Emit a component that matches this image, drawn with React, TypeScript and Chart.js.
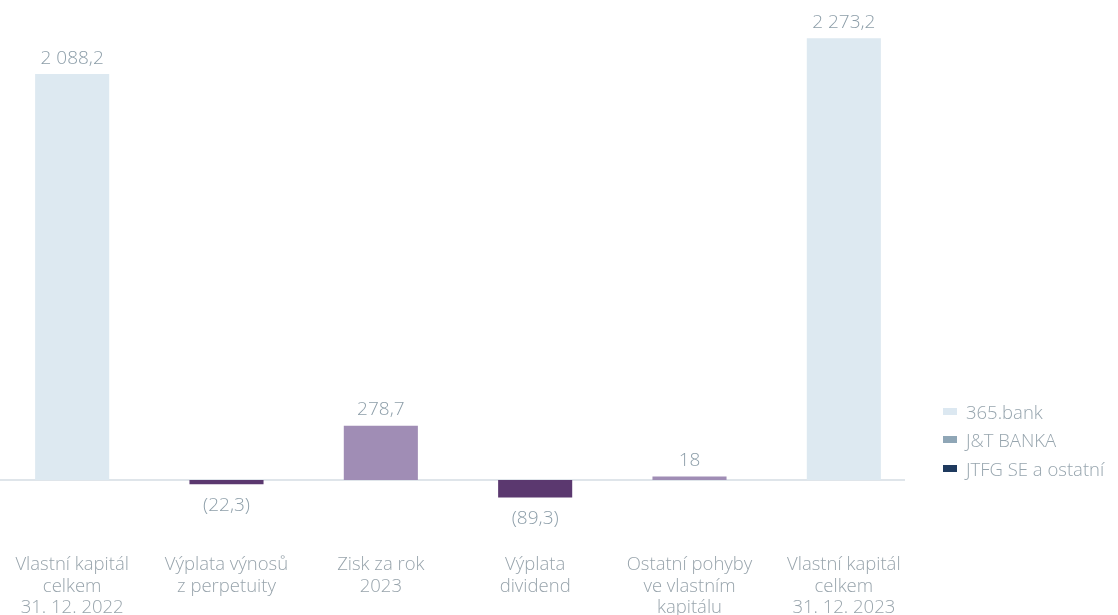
import React, { useEffect, useRef } from "react";
import { Chart, registerables } from "chart.js";

Chart.register(...registerables);

const categories: string[][] = [
  ["Vlastní kapitál", "celkem", "31. 12. 2022"],
  ["Výplata výnosů", "z perpetuity"],
  ["Zisk za rok", "2023"],
  ["Výplata", "dividend"],
  ["Ostatní pohyby", "ve vlastním", "kapitálu"],
  ["Vlastní kapitál", "celkem", "31. 12. 2023"],
];
const values: number[] = [2088.2, -22.3, 278.7, -89.3, 18, 2273.2];
const barKinds: string[] = ["total", "change", "change", "change", "change", "total"];
const legendLabels: string[] = ["365.bank", "J&T BANKA", "JTFG SE a ostatní"];

const legendColors = ["#dce8f1", "#8fa6b6", "#1f3a5e"];
const COLOR_TOTAL = "#dde9f1";
const COLOR_POS = "#a08db5";
const COLOR_NEG = "#5b386f";
const TEXT = "#8d9ea9";
const FONT = "'Open Sans', 'Noto Sans', sans-serif";

function fmt(v: number): string {
  const a = Math.abs(v);
  let s = Number.isInteger(a) ? String(a) : a.toFixed(1);
  let [i, d] = s.split(".");
  i = i.replace(/\B(?=(\d{3})+(?!\d))/g, " ");
  const out = d ? i + "," + d : i;
  return v < 0 ? "(" + out + ")" : out;
}

const valueLabelPlugin = {
  id: "valueLabels",
  beforeDatasetsDraw(chart: any) {
    const { ctx, chartArea, scales } = chart;
    const y0 = scales.y.getPixelForValue(0);
    ctx.save();
    ctx.strokeStyle = "#d4dde3";
    ctx.lineWidth = 1.5;
    ctx.beginPath();
    ctx.moveTo(chartArea.left + 5, y0);
    ctx.lineTo(chartArea.right - 16, y0);
    ctx.stroke();
    ctx.restore();
  },
  afterDatasetsDraw(chart: any) {
    const { ctx } = chart;
    const meta = chart.getDatasetMeta(0);
    ctx.save();
    ctx.font = "300 19px " + FONT;
    ctx.fillStyle = TEXT;
    ctx.textAlign = "center";
    ctx.textBaseline = "middle";
    meta.data.forEach((bar: any, i: number) => {
      const v = values[i];
      const p = bar.getProps(["x", "y", "base"], true);
      if (v >= 0) {
        ctx.fillText(fmt(v), p.x, p.y - 16);
      } else {
        ctx.fillText(fmt(v), p.x, p.y + 21);
      }
    });
    ctx.restore();
  },
};

export default function App() {
  const ref = useRef<HTMLCanvasElement | null>(null);
  useEffect(() => {
    if (!ref.current) return;
    const chart = new Chart(ref.current, {
      type: "bar",
      data: {
        labels: categories,
        datasets: [
          {
            data: values,
            backgroundColor: values.map((v, i) =>
              barKinds[i] === "total" ? COLOR_TOTAL : v >= 0 ? COLOR_POS : COLOR_NEG
            ),
            borderWidth: 0,
            barPercentage: 0.48,
            categoryPercentage: 1,
          },
        ],
      },
      options: {
        responsive: false,
        animation: false,
        devicePixelRatio: 1,
        layout: { padding: { top: 10, right: 197, left: 0, bottom: -10 } },
        plugins: { legend: { display: false }, tooltip: { enabled: false } },
        scales: {
          x: {
            grid: { display: false, drawTicks: false },
            border: { display: false },
            ticks: {
              color: "#98a4ac",
              font: { family: FONT, size: 18.5, weight: 300 as any, lineHeight: 1.17 },
              padding: 6,
              maxRotation: 0,
              autoSkip: false,
            },
          },
          y: {
            display: false,
            min: -350,
            max: 2418,
          },
        },
      },
      plugins: [valueLabelPlugin],
    });
    return () => chart.destroy();
  }, []);

  return (
    <div style={{ position: "absolute", left: 0, top: 0, width: 1118, height: 615, overflow: "hidden", background: "#fff" }}>
      <canvas ref={ref} width={1123} height={615} style={{ position: "absolute", left: -5, top: 0 }} />
      <div style={{ position: "absolute", left: 943, top: 397, fontFamily: FONT, fontWeight: 300, fontSize: 18.5, color: "#97a5ae" }}>
        {legendLabels.map((l, i) => (
          <div key={l} style={{ display: "flex", alignItems: "center", height: 28.5 }}>
            <span style={{ display: "inline-block", width: 14, height: 7, background: legendColors[i], marginRight: 9 }} />
            <span style={{ whiteSpace: "nowrap" }}>{l}</span>
          </div>
        ))}
      </div>
    </div>
  );
}
